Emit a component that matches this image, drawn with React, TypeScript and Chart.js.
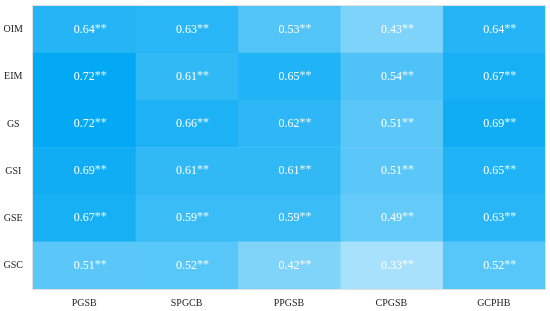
import React, { useEffect, useRef } from "react";
import { Chart, registerables } from "chart.js";

Chart.register(...registerables);

const rowLabels = ["OIM", "EIM", "GS", "GSI", "GSE", "GSC"];
const colLabels = ["PGSB", "SPGCB", "PPGSB", "CPGSB", "GCPHB"];

const pgsb = [0.64, 0.72, 0.72, 0.69, 0.67, 0.51];
const spgcb = [0.63, 0.61, 0.66, 0.61, 0.59, 0.52];
const ppgsb = [0.53, 0.65, 0.62, 0.61, 0.59, 0.42];
const cpgsb = [0.43, 0.54, 0.51, 0.51, 0.49, 0.33];
const gcphb = [0.64, 0.67, 0.69, 0.65, 0.63, 0.52];

const columns = [pgsb, spgcb, ppgsb, cpgsb, gcphb];
const stars = "**";

function cellColor(v: number) {
  const a = Math.max(0.15, Math.min(1, 1.667 * v - 0.2));
  const base = [3, 169, 244];
  const [r, g, b] = base.map((c) => Math.round(255 - a * (255 - c)));
  return `rgb(${r},${g},${b})`;
}

const FONT = "'Liberation Serif', 'Times New Roman', serif";

export default function App() {
  const ref = useRef<HTMLCanvasElement | null>(null);

  useEffect(() => {
    if (!ref.current) return;

    const labelPlugin = {
      id: "cellLabels",
      afterDatasetsDraw(chart: any) {
        const ctx = chart.ctx;
        const xs = chart.scales.x;
        const ys = chart.scales.y;
        ctx.save();
        columns.forEach((col, ci) => {
          col.forEach((v, ri) => {
            const cx = xs.getPixelForValue(ci + 0.5);
            const cy = ys.getPixelForValue(ri);
            const txt = v.toFixed(2);
            ctx.font = `12px ${FONT}`;
            ctx.fillStyle = "#ffffff";
            ctx.textAlign = "center";
            ctx.textBaseline = "middle";
            ctx.fillText(txt, cx, cy);
            const w = ctx.measureText(txt).width;
            ctx.font = `12px ${FONT}`;
            ctx.fillStyle = "rgba(255,255,255,0.85)";
            ctx.textAlign = "left";
            ctx.fillText(stars, cx + w / 2, cy - 1);
          });
        });
        const a = chart.chartArea;
        ctx.strokeStyle = "#e0e0e0";
        ctx.lineWidth = 1;
        ctx.strokeRect(a.left - 0.5, a.top - 0.5, a.right - a.left + 1, a.bottom - a.top + 1);
        ctx.restore();
      },
    };

    const chart = new Chart(ref.current, {
      type: "bar",
      data: {
        labels: rowLabels,
        datasets: columns.map((col, ci) => ({
          label: colLabels[ci],
          data: col.map(() => 1),
          backgroundColor: col.map((v) => cellColor(v)),
          borderWidth: 0,
          barPercentage: 1,
          categoryPercentage: 1,
        })),
      },
      options: {
        indexAxis: "y",
        animation: false,
        responsive: false,
        maintainAspectRatio: false,
        layout: { padding: { top: 6, right: 5, left: 0, bottom: 0 } },
        plugins: {
          legend: { display: false },
          tooltip: { enabled: false },
        },
        scales: {
          x: {
            type: "linear",
            stacked: true,
            min: 0,
            max: 5,
            grid: { display: false, drawTicks: false },
            border: { display: false },
            afterFit: (s: any) => {
              s.height = 22;
              s.paddingLeft = 0;
              s.paddingRight = 0;
            },
            afterBuildTicks: (s: any) => {
              s.ticks = colLabels.map((_, i) => ({ value: i + 0.5 }));
            },
            ticks: {
              autoSkip: false,
              maxRotation: 0,
              padding: 8,
              color: "#222",
              font: { family: FONT, size: 10 },
              callback: (v: any) => colLabels[Math.floor(Number(v))] ?? "",
            },
          },
          y: {
            type: "category",
            stacked: true,
            grid: { display: false, drawTicks: false },
            border: { display: false },
            afterFit: (s: any) => {
              s.width = 33;
              s.paddingTop = 0;
              s.paddingBottom = 0;
            },
            ticks: {
              crossAlign: "center",
              padding: 10,
              color: "#222",
              font: { family: FONT, size: 10 },
            },
          },
        },
      },
      plugins: [labelPlugin],
    } as any);

    return () => chart.destroy();
  }, []);

  return (
    <div style={{ position: "fixed", left: 0, top: 0, width: 550, height: 311, background: "#fff" }}>
      <canvas ref={ref} width={550} height={311} style={{ display: "block" }} />
    </div>
  );
}
